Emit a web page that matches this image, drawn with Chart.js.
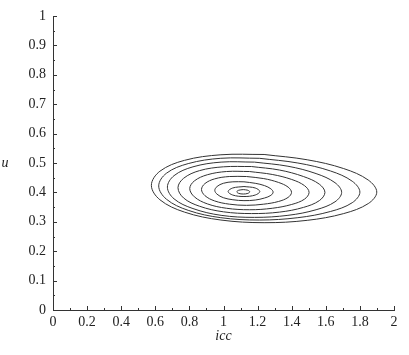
<!DOCTYPE html>
<html>
<head>
<meta charset="utf-8">
<script src="https://cdn.jsdelivr.net/npm/chart.js@4.4.1/dist/chart.umd.min.js"></script>
<style>
    html, body { margin: 0; padding: 0; background: #fff; }
    #wrap { width: 409px; height: 355px; }
</style>
</head>
<body>
<div id="wrap"><canvas id="chart" width="409" height="355"></canvas></div>
<script>
// Axis ticks and labels
const xTicks = [0, 0.2, 0.4, 0.6, 0.8, 1, 1.2, 1.4, 1.6, 1.8, 2];
const xTickLabels = ['0', '0.2', '0.4', '0.6', '0.8', '1', '1.2', '1.4', '1.6', '1.8', '2'];
const xMinorTicks = [0.1, 0.3, 0.5, 0.7, 0.9, 1.1, 1.3, 1.5, 1.7, 1.9];
const yTicks = [0, 0.1, 0.2, 0.3, 0.4, 0.5, 0.6, 0.7, 0.8, 0.9, 1];
const yTickLabels = ['0', '0.1', '0.2', '0.3', '0.4', '0.5', '0.6', '0.7', '0.8', '0.9', '1'];
const yMinorTicks = [0.05, 0.15, 0.25, 0.35, 0.45, 0.55, 0.65, 0.75, 0.85, 0.95];

// Contour lines, outermost first.
// Each ring starts and ends at its top so the seam sits on a flat stretch.
const ring1X = [1.238, 0.985, 0.771, 0.627, 0.577, 0.627, 0.771, 0.985, 1.238, 1.491, 1.705, 1.849, 1.899, 1.849, 1.705, 1.491, 1.238];
const ring1Y = [0.529, 0.528, 0.509, 0.472, 0.424, 0.375, 0.333, 0.306, 0.297, 0.305, 0.328, 0.362, 0.401, 0.442, 0.481, 0.511, 0.529];
const ring2X = [1.210, 0.984, 0.793, 0.665, 0.620, 0.665, 0.793, 0.984, 1.210, 1.436, 1.627, 1.755, 1.800, 1.755, 1.627, 1.436, 1.210];
const ring2Y = [0.516, 0.516, 0.498, 0.465, 0.422, 0.377, 0.339, 0.314, 0.306, 0.314, 0.335, 0.365, 0.401, 0.438, 0.473, 0.500, 0.516];
const ring3X = [1.182, 0.986, 0.821, 0.710, 0.671, 0.710, 0.821, 0.986, 1.182, 1.378, 1.543, 1.654, 1.693, 1.654, 1.543, 1.378, 1.182];
const ring3Y = [0.503, 0.503, 0.487, 0.457, 0.418, 0.378, 0.345, 0.322, 0.315, 0.322, 0.341, 0.368, 0.400, 0.433, 0.464, 0.489, 0.503];
const ring4X = [1.164, 0.999, 0.859, 0.766, 0.733, 0.766, 0.859, 0.999, 1.164, 1.329, 1.469, 1.562, 1.595, 1.562, 1.469, 1.329, 1.164];
const ring4Y = [0.488, 0.487, 0.474, 0.448, 0.416, 0.381, 0.353, 0.334, 0.328, 0.333, 0.349, 0.372, 0.400, 0.428, 0.454, 0.476, 0.488];
const ring5X = [1.152, 1.018, 0.905, 0.829, 0.802, 0.829, 0.905, 1.018, 1.152, 1.286, 1.400, 1.475, 1.502, 1.475, 1.400, 1.286, 1.152];
const ring5Y = [0.471, 0.471, 0.460, 0.439, 0.413, 0.385, 0.361, 0.346, 0.341, 0.346, 0.359, 0.377, 0.400, 0.423, 0.444, 0.461, 0.471];
const ring6X = [1.135, 1.034, 0.948, 0.891, 0.871, 0.891, 0.948, 1.034, 1.135, 1.236, 1.322, 1.379, 1.399, 1.379, 1.322, 1.236, 1.135];
const ring6Y = [0.454, 0.454, 0.446, 0.430, 0.410, 0.389, 0.371, 0.360, 0.356, 0.360, 0.369, 0.383, 0.400, 0.418, 0.434, 0.447, 0.454];
const ring7X = [1.120, 1.055, 0.999, 0.962, 0.949, 0.962, 0.999, 1.055, 1.120, 1.186, 1.241, 1.278, 1.291, 1.278, 1.241, 1.186, 1.120];
const ring7Y = [0.436, 0.436, 0.431, 0.420, 0.407, 0.394, 0.382, 0.375, 0.372, 0.374, 0.381, 0.390, 0.401, 0.412, 0.423, 0.431, 0.436];
const ring8X = [1.120, 1.054, 1.027, 1.054, 1.120, 1.186, 1.213, 1.186, 1.120];
const ring8Y = [0.420, 0.415, 0.403, 0.391, 0.386, 0.391, 0.403, 0.415, 0.420];
const ring9X = [1.116, 1.089, 1.078, 1.089, 1.116, 1.143, 1.154, 1.143, 1.116];
const ring9Y = [0.4095, 0.4073, 0.402, 0.3967, 0.3945, 0.3967, 0.402, 0.4073, 0.4095];

const rings = [
    [ring1X, ring1Y], [ring2X, ring2Y], [ring3X, ring3Y],
    [ring4X, ring4Y], [ring5X, ring5Y], [ring6X, ring6Y],
    [ring7X, ring7Y], [ring8X, ring8Y], [ring9X, ring9Y]
];

const INK = '#222';
const serif = '"Liberation Serif", "DejaVu Serif", serif';

// Small inward tick marks plus the upright "u" label
const tickMarks = {
    id: 'tickMarks',
    afterDraw(chart) {
        const { ctx, chartArea: a, scales: { x, y } } = chart;
        ctx.save();
        ctx.strokeStyle = '#333';
        ctx.lineWidth = 1;
        ctx.beginPath();
        const xMark = (v, len) => {
            const px = Math.round(x.getPixelForValue(v)) + 0.5;
            ctx.moveTo(px, a.bottom);
            ctx.lineTo(px, a.bottom - len);
        };
        const yMark = (v, len) => {
            const py = Math.round(y.getPixelForValue(v)) + 0.5;
            ctx.moveTo(a.left, py);
            ctx.lineTo(a.left + len, py);
        };
        xTicks.forEach(v => xMark(v, 4));
        xMinorTicks.forEach(v => xMark(v, 2));
        yTicks.forEach(v => yMark(v, 4));
        yMinorTicks.forEach(v => yMark(v, 2));
        ctx.stroke();

        ctx.fillStyle = INK;
        ctx.font = 'italic 14px ' + serif;
        ctx.textAlign = 'center';
        ctx.textBaseline = 'middle';
        ctx.fillText('u', 5, (a.top + a.bottom) / 2);
        ctx.restore();
    }
};

new Chart(document.getElementById('chart').getContext('2d'), {
    type: 'scatter',
    data: {
        datasets: rings.map(([xs, ys]) => ({
            data: xs.map((x, i) => ({ x, y: ys[i] })),
            showLine: true,
            fill: false,
            tension: 0.36,
            borderColor: '#333',
            borderWidth: 1,
            pointRadius: 0,
            pointHoverRadius: 0
        }))
    },
    options: {
        responsive: false,
        animation: false,
        devicePixelRatio: 1,
        layout: { padding: { left: 0, right: 15, top: 16, bottom: 0 } },
        plugins: {
            legend: { display: false },
            tooltip: { enabled: false }
        },
        scales: {
            x: {
                type: 'linear',
                min: 0,
                max: 2,
                afterBuildTicks: s => { s.ticks = xTicks.map(value => ({ value })); },
                afterFit: s => { s.height = 45; },
                grid: { display: false, drawTicks: false },
                border: { display: true, color: '#333', width: 1 },
                ticks: {
                    color: INK,
                    font: { family: serif, size: 14 },
                    padding: 4,
                    maxRotation: 0,
                    autoSkip: false,
                    callback: (v, i) => xTickLabels[i]
                },
                title: {
                    display: true,
                    text: 'icc',
                    color: INK,
                    font: { family: serif, size: 14, style: 'italic' },
                    padding: { top: 0, bottom: 10 }
                }
            },
            y: {
                type: 'linear',
                min: 0,
                max: 1,
                afterBuildTicks: s => { s.ticks = yTicks.map(value => ({ value })); },
                afterFit: s => { s.width = 53; },
                grid: { display: false, drawTicks: false },
                border: { display: true, color: '#333', width: 1 },
                ticks: {
                    color: INK,
                    font: { family: serif, size: 14 },
                    padding: 7,
                    autoSkip: false,
                    callback: (v, i) => yTickLabels[i]
                }
            }
        }
    },
    plugins: [tickMarks]
});
</script>
</body>
</html>
